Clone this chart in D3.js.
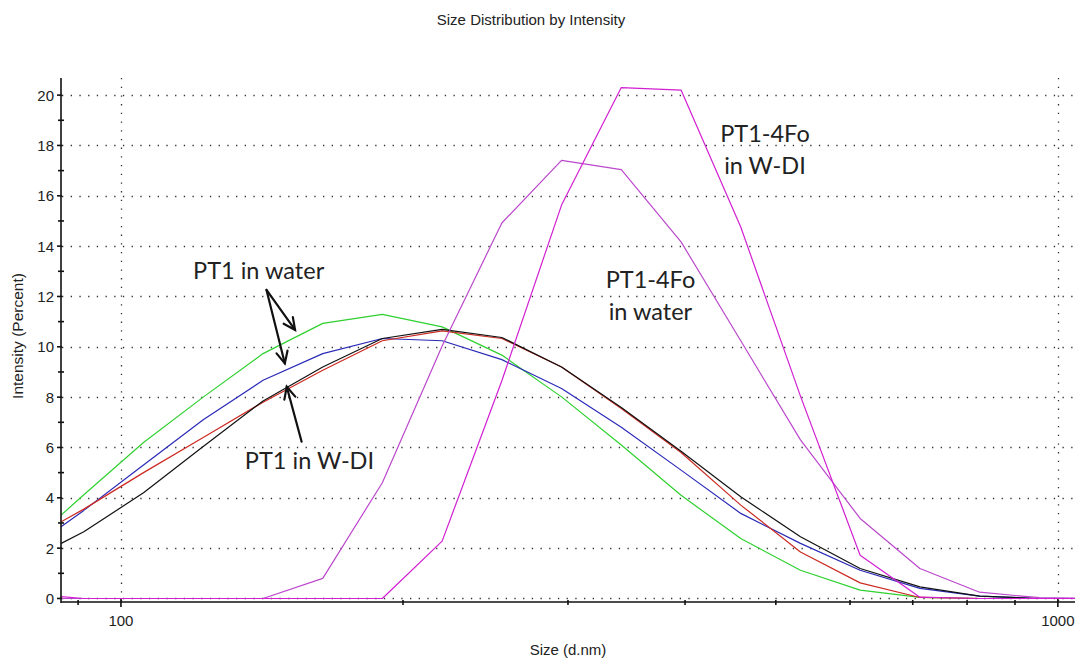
<!DOCTYPE html>
<html>
<head>
<meta charset="utf-8">
<script src="https://cdn.jsdelivr.net/npm/d3@7"></script>
<style>
  html, body { margin: 0; padding: 0; background: #fff; }
  svg { display: block; }
</style>
</head>
<body>
<svg id="chart" width="1076" height="660"></svg>
<script>
// Size bins (d.nm) of the intensity distribution
const sizes = [78.82, 91.28, 105.7, 122.4, 141.8, 164.2, 190.1, 220.2, 255.0, 295.3, 342.0, 396.1, 458.7, 531.2, 615.1, 712.4, 825.0, 955.4, 1106];

// Intensity (%) per bin for each measurement
const pt1WaterGreen = [2.0, 4.12, 6.2, 8.0, 9.73, 10.93, 11.29, 10.79, 9.67, 8.01, 6.1, 4.1, 2.38, 1.12, 0.33, 0.04, 0, 0, 0];
const pt1WaterBlue  = [1.81, 3.5, 5.3, 7.1, 8.67, 9.73, 10.33, 10.24, 9.49, 8.34, 6.8, 5.1, 3.38, 2.19, 1.12, 0.4, 0.09, 0, 0];
const pt1WdiRed     = [2.22, 3.55, 5.0, 6.4, 7.8, 9.07, 10.24, 10.63, 10.33, 9.2, 7.55, 5.8, 3.71, 1.85, 0.62, 0.04, 0, 0, 0];
const pt1WdiBlack   = [1.43, 2.65, 4.2, 6.04, 7.85, 9.2, 10.33, 10.69, 10.37, 9.2, 7.59, 5.85, 4.04, 2.45, 1.19, 0.46, 0.09, 0, 0];
const foWater       = [0, 0, 0, 0, 0, 0.8, 4.6, 10.03, 14.92, 17.41, 17.04, 14.17, 10.24, 6.3, 3.18, 1.19, 0.25, 0.03, 0];
const foWdi         = [0.2, 0, 0, 0, 0, 0, 0, 2.28, 8.65, 15.63, 20.3, 20.2, 14.76, 8.04, 1.72, 0.05, 0, 0, 0];

// Axis ticks
const yMajorTicks = [0, 2, 4, 6, 8, 10, 12, 14, 16, 18, 20];
const yMinorTicks = [1, 3, 5, 7, 9, 11, 13, 15, 17, 19];
const xMajorTicks = [100, 1000];
const xMinorTicks = [90, 200, 300, 400, 500, 600, 700, 800, 900];

const series = [
  { values: pt1WaterGreen, color: "#2fd12f" },
  { values: pt1WaterBlue,  color: "#2a2ab8" },
  { values: pt1WdiRed,     color: "#cc2a22" },
  { values: pt1WdiBlack,   color: "#111111" },
  { values: foWater,       color: "#bb48cc" },
  { values: foWdi,         color: "#d21fd2" }
];

// Annotation labels, placed in data space (size, intensity)
const labels = [
  { lines: ["PT1 in water"], size: 119.4, value: 12.68, anchor: "start" },
  { lines: ["PT1 in W-DI"], size: 135.6, value: 5.13, anchor: "start" },
  { lines: ["PT1-4Fo", "in water"], size: 367.4, value: 12.32, anchor: "middle" },
  { lines: ["PT1-4Fo", "in W-DI"], size: 486.8, value: 18.15, anchor: "middle" }
];
const arrows = [
  { from: [143.0, 12.26], to: [153.4, 10.67] },
  { from: [143.0, 12.26], to: [149.6, 9.34] },
  { from: [155.9, 6.23], to: [150.3, 8.41] }
];

const svg = d3.select("#chart");
const plotLeft = 61, plotRight = 1075, plotTop = 78, plotBottom = 602;

const x = d3.scaleLog().domain([86.3, 1043]).range([plotLeft, plotRight]);
const y = d3.scaleLinear().domain([-0.14, 20.68]).range([plotBottom, plotTop]);

const fontAxis = "'Liberation Sans', Arial, sans-serif";

// Title
svg.append("text")
  .attr("x", 531).attr("y", 25)
  .attr("text-anchor", "middle")
  .style("font-family", fontAxis).style("font-size", "15px").style("fill", "#222")
  .text("Size Distribution by Intensity");

// Dotted grid
const grid = svg.append("g").attr("stroke", "#333").attr("stroke-width", 1.3)
  .attr("stroke-dasharray", "1.3 7.4");
grid.selectAll("line.h").data(yMajorTicks).join("line")
  .attr("x1", plotLeft + 1).attr("x2", plotRight)
  .attr("y1", d => Math.round(y(d)) + 0.5).attr("y2", d => Math.round(y(d)) + 0.5);
grid.selectAll("line.v").data(xMajorTicks).join("line")
  .attr("x1", d => Math.round(x(d)) + 0.5).attr("x2", d => Math.round(x(d)) + 0.5)
  .attr("y1", plotTop).attr("y2", plotBottom);

// Curves
svg.append("clipPath").attr("id", "plotClip")
  .append("rect").attr("x", plotLeft).attr("y", plotTop - 5)
  .attr("width", plotRight - plotLeft).attr("height", plotBottom - plotTop + 4);

const line = d3.line().x((d, i) => x(sizes[i])).y(d => y(d));
svg.append("g").attr("clip-path", "url(#plotClip)")
  .selectAll("path").data(series).join("path")
  .attr("d", s => line(s.values))
  .attr("fill", "none")
  .attr("stroke", s => s.color)
  .attr("stroke-width", 1.2)
  .attr("stroke-linejoin", "round");

// Axes lines and ticks
const axes = svg.append("g").attr("stroke", "#111").attr("stroke-width", 1.6);
axes.append("line").attr("x1", plotLeft).attr("x2", plotLeft).attr("y1", plotTop).attr("y2", plotBottom + 1);
axes.append("line").attr("x1", plotLeft).attr("x2", plotRight).attr("y1", plotBottom).attr("y2", plotBottom);
axes.selectAll("line.ym").data(yMajorTicks).join("line")
  .attr("x1", plotLeft - 4).attr("x2", plotLeft + 1)
  .attr("y1", d => y(d)).attr("y2", d => y(d));
axes.selectAll("line.yn").data(yMinorTicks).join("line")
  .attr("x1", plotLeft - 3).attr("x2", plotLeft + 3)
  .attr("y1", d => y(d)).attr("y2", d => y(d));
axes.selectAll("line.xm").data(xMajorTicks).join("line")
  .attr("x1", d => x(d)).attr("x2", d => x(d))
  .attr("y1", plotBottom - 3).attr("y2", plotBottom + 5);
axes.selectAll("line.xn").data(xMinorTicks).join("line")
  .attr("x1", d => x(d)).attr("x2", d => x(d))
  .attr("y1", plotBottom - 2).attr("y2", plotBottom + 3);

// Tick labels
svg.append("g").selectAll("text").data(yMajorTicks).join("text")
  .attr("x", plotLeft - 7).attr("y", d => y(d) + 5.5)
  .attr("text-anchor", "end")
  .style("font-family", fontAxis).style("font-size", "15px").style("fill", "#222")
  .text(d => d);
svg.append("g").selectAll("text").data(xMajorTicks).join("text")
  .attr("x", d => x(d)).attr("y", plotBottom + 24)
  .attr("text-anchor", "middle")
  .style("font-family", fontAxis).style("font-size", "15px").style("fill", "#222")
  .text(d => d);

// Axis titles
svg.append("text")
  .attr("x", 568).attr("y", 655)
  .attr("text-anchor", "middle")
  .style("font-family", fontAxis).style("font-size", "15px").style("fill", "#222")
  .text("Size (d.nm)");
svg.append("text")
  .attr("transform", "translate(23,336) rotate(-90)")
  .attr("text-anchor", "middle")
  .style("font-family", fontAxis).style("font-size", "15.5px").style("fill", "#222")
  .text("Intensity (Percent)");

// Annotation labels
const ann = svg.append("g")
  .style("font-family", "Lato, 'Open Sans', sans-serif").style("font-size", "23.5px").style("fill", "#222");
labels.forEach(l => {
  const t = ann.append("text")
    .attr("x", x(l.size)).attr("y", y(l.value))
    .attr("text-anchor", l.anchor);
  l.lines.forEach((s, i) => {
    t.append("tspan").attr("x", x(l.size)).attr("dy", i === 0 ? 0 : 32).text(s);
  });
});

// Arrows with open heads
const arrowG = svg.append("g").attr("stroke", "#111").attr("stroke-width", 2.2)
  .attr("fill", "none").attr("stroke-linecap", "round");
arrows.forEach(a => {
  const x1 = x(a.from[0]), y1 = y(a.from[1]);
  const x2 = x(a.to[0]), y2 = y(a.to[1]);
  arrowG.append("line").attr("x1", x1).attr("y1", y1).attr("x2", x2).attr("y2", y2);
  const ang = Math.atan2(y2 - y1, x2 - x1);
  const len = 13, spread = 0.45;
  const p1 = [x2 - len * Math.cos(ang - spread), y2 - len * Math.sin(ang - spread)];
  const p2 = [x2 - len * Math.cos(ang + spread), y2 - len * Math.sin(ang + spread)];
  arrowG.append("path").attr("d", `M${p1[0]},${p1[1]}L${x2},${y2}L${p2[0]},${p2[1]}`);
});
</script>
</body>
</html>
